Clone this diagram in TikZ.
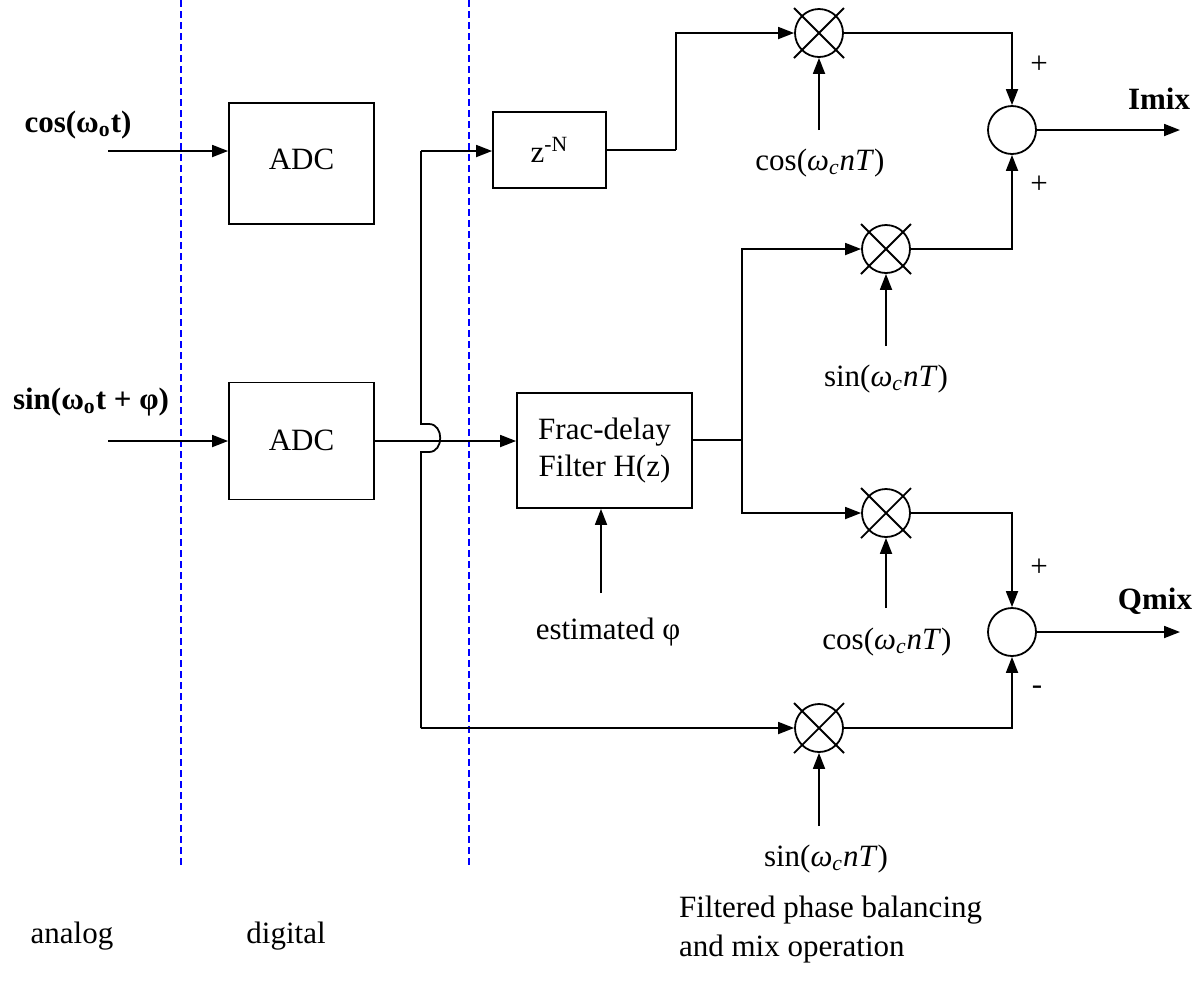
\documentclass[tikz,border=0pt]{standalone}
\usepackage{fontspec}
\setmainfont{Liberation Serif}
\usetikzlibrary{arrows.meta}
\tikzset{
  blk/.style 2 args={draw, line width=0.9pt, minimum width=#1, minimum height=#2,
              align=center, inner sep=0pt},
  arr/.style={-{Triangle[length=8pt,width=6pt]}, line width=0.9pt},
  ln/.style={line width=0.9pt},
}

\begin{document}
\begin{tikzpicture}[x=0.5pt, y=-0.5pt,
      every node/.style={font=\fontsize{15.5}{18.6}\selectfont},
      mix/.style ={circle, draw, line width=0.9pt, minimum size=24pt, inner sep=0pt},
      sum/.style ={circle, draw, line width=0.9pt, minimum size=24pt, inner sep=0pt},
      sig/.style ={font=\fontsize{15.5}{18.6}\selectfont\bfseries},
      bnd/.style ={blue, dashed, line width=0.7pt, dash pattern=on 3.5pt off 2pt}]
    \useasboundingbox (0,0) rectangle (1200,993);

    % ── DOMAIN BORDERS ──────────────────────────────────────
    \coordinate (d1t) at (181,0);  \coordinate (d1b) at (181,866);
    \coordinate (d2t) at (469,0);  \coordinate (d2b) at (469,866);
    \draw[bnd] (d1t) -- (d1b);
    \draw[bnd] (d2t) -- (d2b);

    % ── INPUTS AND ADCs ─────────────────────────────────────
    \node[sig] (icos) at (78,125) {cos(ω\textsubscript{o}t)};
    \node[sig] (isin) at (91,402) {sin(ω\textsubscript{o}t + φ)};
    \node[blk={72.5pt}{60.5pt}] (adc1) at (301.5,163.5) {\raisebox{4pt}{ADC}};
    \node[blk={72.5pt}{58.5pt}] (adc2) at (301.5,441) {\raisebox{1pt}{ADC}};
    \coordinate (ci) at (108,151); \coordinate (si) at (108,441);
    \draw[arr] (ci) -- (ci -| adc1.west);
    \draw[arr] (si) -- (adc2.west);

    % ── DELAY AND FILTER ────────────────────────────────────
    \node[blk={56.5pt}{38pt}]   (zN)   at (549.5,150) {z\textsuperscript{-N}};
    \node[blk={87.5pt}{57.5pt}] (frac) at (604.5,450.5) {Frac-delay\\Filter H(z)};
    \node (est) at (608,632) {estimated φ};
    \coordinate (ce) at (601,593);
    \draw[arr] (ce) -- (ce |- frac.south);
    \draw[arr] (adc2.east) -- (adc2.east -| frac.west);
    % feed line with jump over the ADC output
    \coordinate (ft) at (421,151); \coordinate (fb) at (421,728);
    \coordinate (j1) at (421,424); \coordinate (j2) at (421,452);
    \draw[ln] (ft) -- (j1) -- ++(8,0) .. controls +(15,0) and +(15,0) .. ++(0,28) -- (j2) -- (fb);
    \draw[arr] (ft) -- (ft -| zN.west);

    % ── MIXERS ──────────────────────────────────────────────
    \node[mix] (m1) at (819,33)  {};
    \node[mix] (m2) at (886,249) {};
    \node[mix] (m3) at (886,513) {};
    \node[mix] (m4) at (819,728) {};
    \foreach \m in {m1,m2,m3,m4}
      \draw[ln] (\m.center) ++(-25,-25) -- ++(50,50) ++(0,-50) -- ++(-50,50);
    \node (l1) at (820,163) {cos(\textit{ω}\textsubscript{\textit{c}}\textit{nT})};
    \node (l2) at (886,379) {sin(\textit{ω}\textsubscript{\textit{c}}\textit{nT})};
    \node (l3) at (887,642) {cos(\textit{ω}\textsubscript{\textit{c}}\textit{nT})};
    \node (l4) at (826,859) {sin(\textit{ω}\textsubscript{\textit{c}}\textit{nT})};
    \coordinate (c1) at (819,130); \coordinate (c2) at (886,346);
    \coordinate (c3) at (886,608); \coordinate (c4) at (819,826);
    \draw[arr] (c1) -- (m1.south);
    \draw[arr] (c2) -- (m2.south);
    \draw[arr] (c3) -- (m3.south);
    \draw[arr] (c4) -- (m4.south);
    % mixer inputs
    \coordinate (zc) at (676,150); \coordinate (fo) at (742,440);
    \draw[ln] (zN.east) -- (zc);
    \draw[arr] (zc) |- (m1.west);
    \draw[ln] (fo -| frac.east) -- (fo);
    \draw[arr] (fo) |- (m2.west);
    \draw[arr] (fo) |- (m3.west);
    \draw[arr] (fb) -- (m4.west);

    % ── SUMMERS AND OUTPUTS ─────────────────────────────────
    \node[sum] (s1) at (1012,130) {};
    \node[sum] (s2) at (1012,632) {};
    \draw[arr] (m1.east) -| (s1.north);
    \draw[arr] (m2.east) -| (s1.south);
    \draw[arr] (m3.east) -| (s2.north);
    \draw[arr] (m4.east) -| (s2.south);
    \node (p1) at (1039,65)  {+};
    \node (p2) at (1039,185) {+};
    \node (p3) at (1039,568) {+};
    \node (p4) at (1037,690) {-};
    \coordinate (o1) at (1180,130); \coordinate (o2) at (1180,632);
    \draw[arr] (s1.east) -- (o1);
    \draw[arr] (s2.east) -- (o2);
    \node[sig] (imix) at (1159,99)  {Imix};
    \node[sig] (qmix) at (1155,601) {Qmix};

    % ── DOMAIN LABELS ───────────────────────────────────────
    \node (an) at (72,936)  {analog};
    \node (dg) at (286,936) {digital};
    \node[anchor=west, align=left, font=\fontsize{15.5}{19.5}\selectfont] (fp) at (672,930)
      {Filtered phase balancing\\and mix operation};
  \end{tikzpicture}
\end{document}
